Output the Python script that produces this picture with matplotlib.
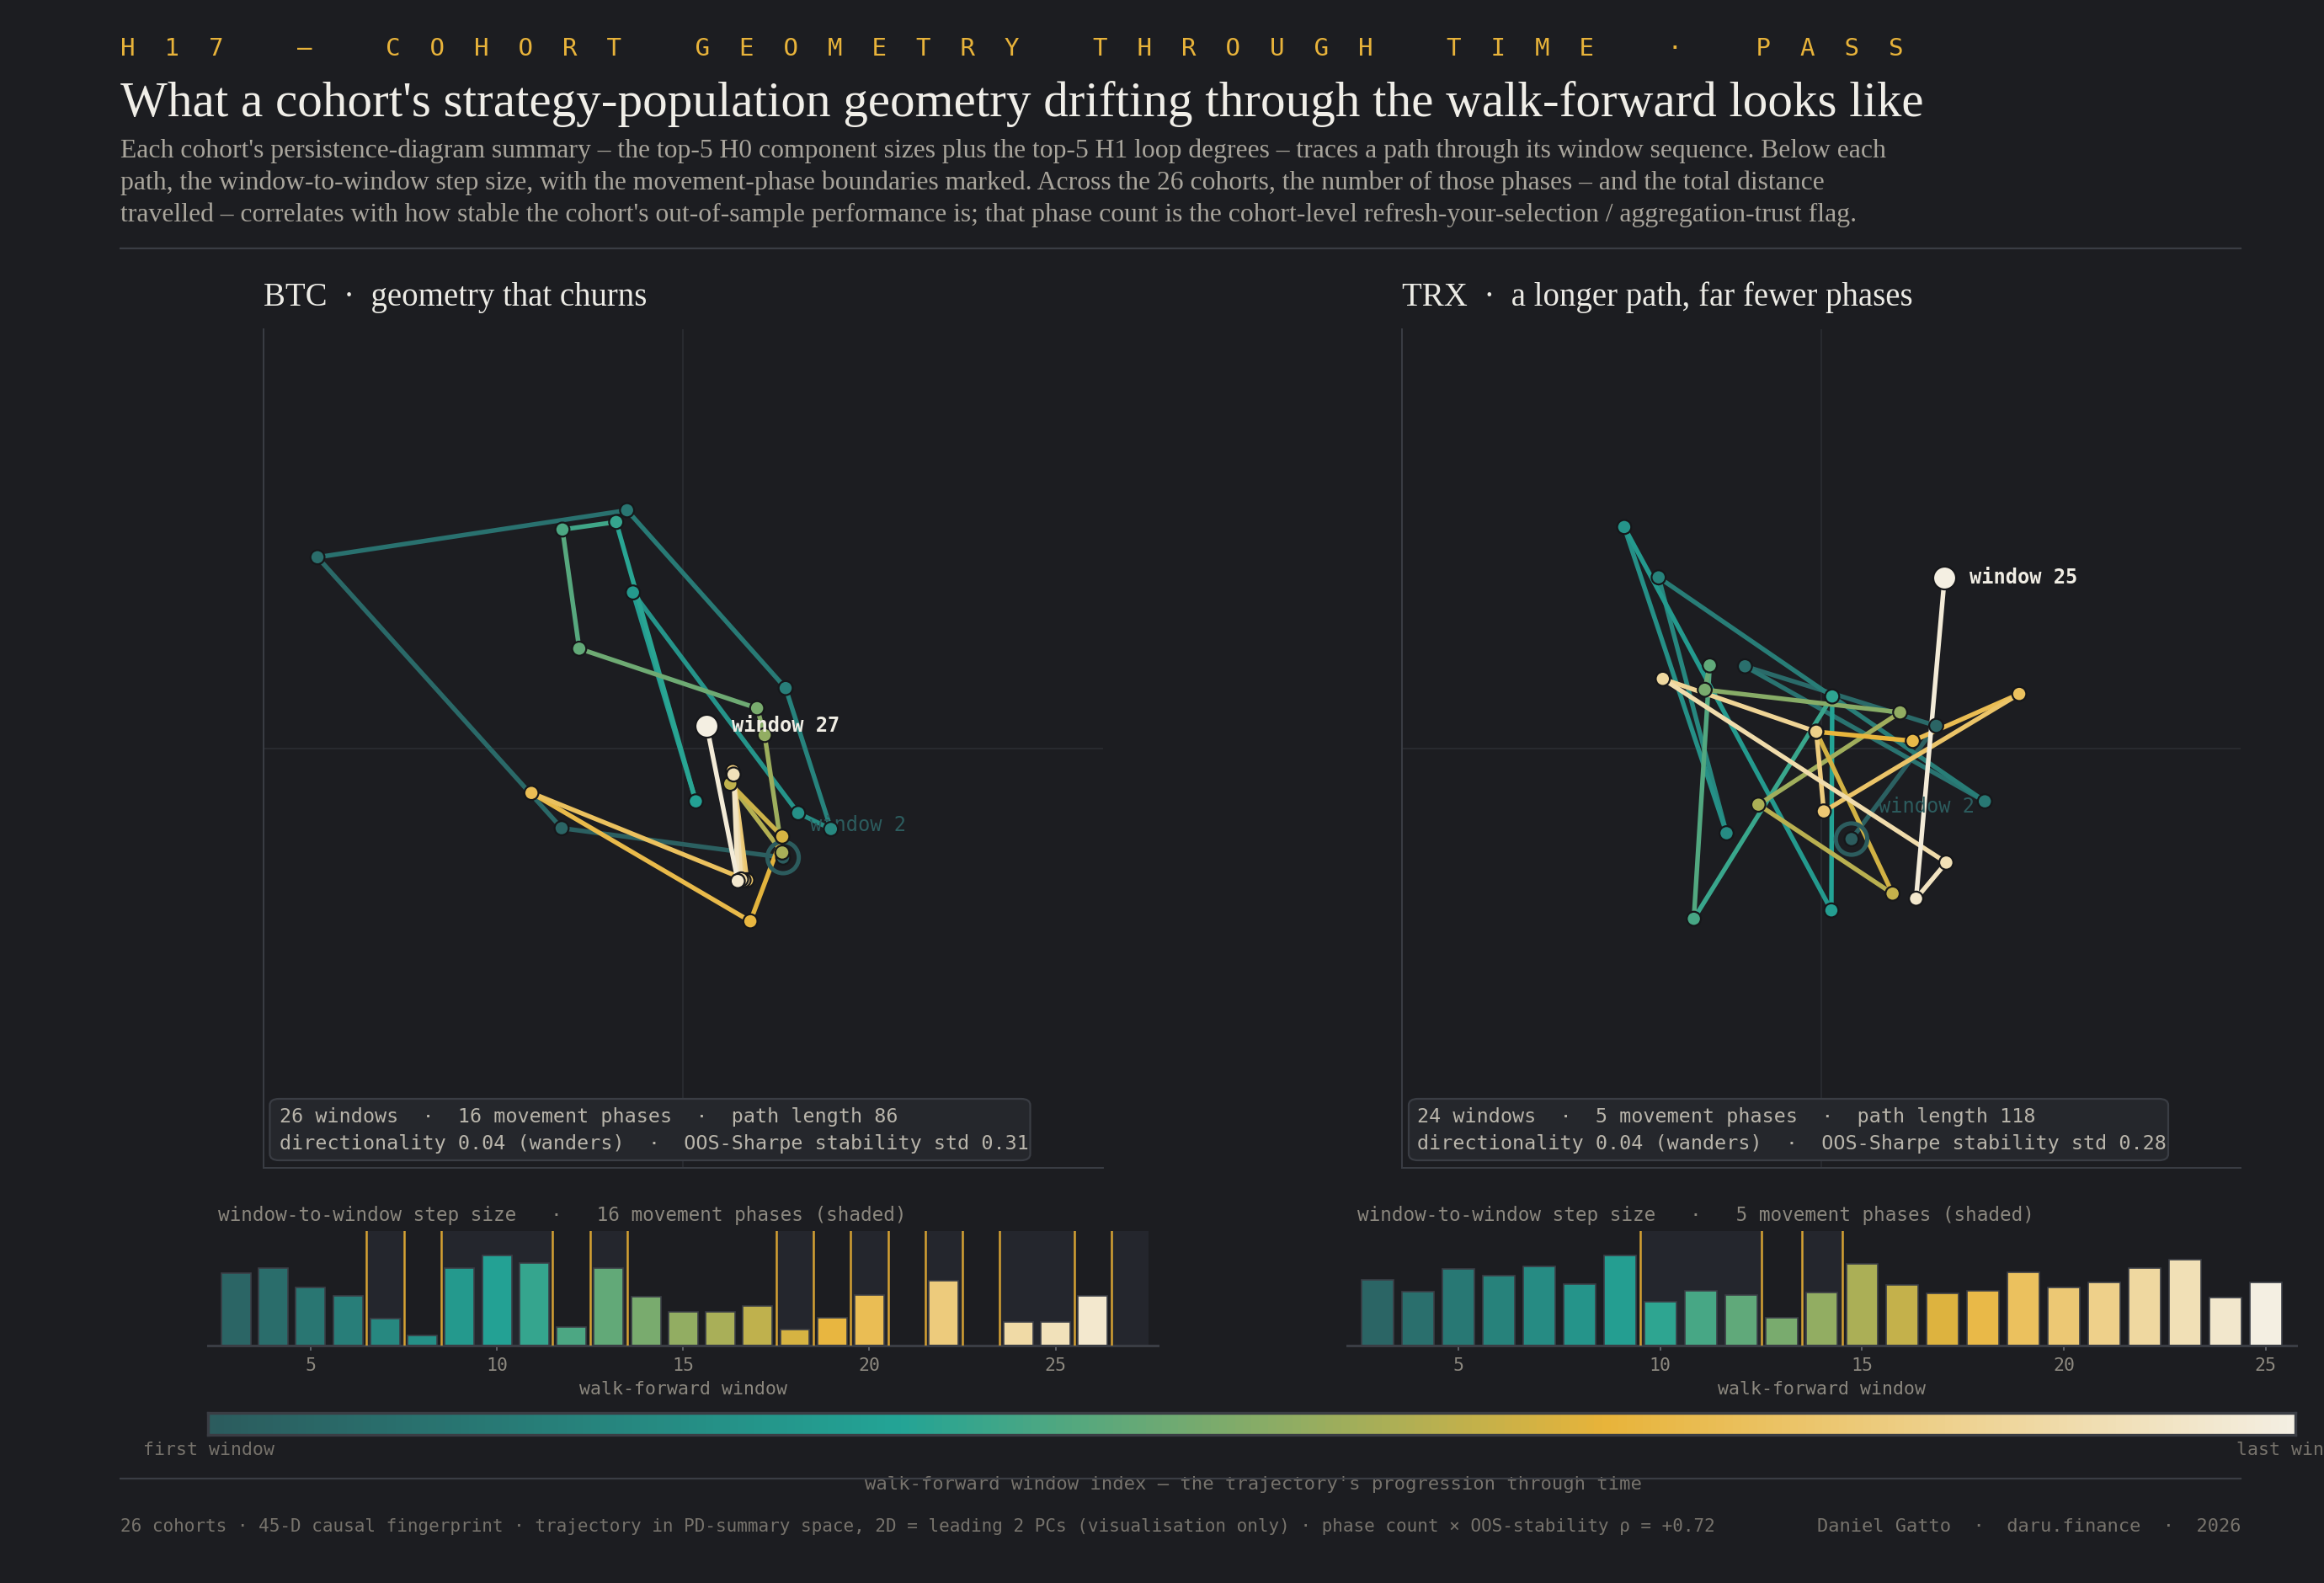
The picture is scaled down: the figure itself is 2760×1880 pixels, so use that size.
import matplotlib
matplotlib.use("Agg")
import matplotlib.pyplot as plt
import numpy as np
from matplotlib.colors import LinearSegmentedColormap
from matplotlib.patches import FancyBboxPatch

# ---- data ----
btc_windows = list(range(2, 28))
btc_pc1 = [1.19, -1.45, -4.36, -0.67, 1.22, 1.76, 1.37, -0.60, 0.15, -0.80, -1.44, -1.24, 0.88,
           0.97, 1.18, 0.56, 1.18, 0.80, -1.81, 0.76, 0.59, 0.72, 0.69, 0.60, 0.65, 0.28]
btc_pc2 = [-1.30, -0.95, 2.28, 2.84, 0.72, -0.96, -0.77, 1.86, -0.63, 2.70, 2.61, 1.19, 0.48,
           0.16, -1.24, -0.42, -1.05, -2.06, -0.53, -1.57, -0.27, -1.57, -1.56, -0.31, -1.58, 0.27]
btc_steps = [5.94, 6.36, 4.76, 4.06, 2.18, 0.79, 6.36, 7.40, 6.78, 1.49, 6.36, 3.99, 2.74,
             2.74, 3.23, 1.28, 2.25, 4.13, 0.0, 5.32, 0.0, 1.90, 1.90, 4.06, 0.0]
btc_phase_starts = [7, 8, 9, 12, 13, 14, 18, 19, 20, 21, 22, 23, 24, 26, 27]

trx_windows = list(range(2, 26))
trx_pc1 = [0.36, 1.37, -0.91, 1.95, -1.94, -1.13, -2.35, 0.12, 0.13, -1.52, -1.33, -1.39,
           0.94, -0.75, 0.85, -0.06, 1.09, 2.36, 0.03, -0.06, -1.89, 1.49, 1.13, 1.47]
trx_pc2 = [-1.08, 0.27, 0.98, -0.63, 2.04, -1.01, 2.64, -1.93, 0.62, -2.03, 0.99, 0.70,
           0.43, -0.67, -1.73, 0.20, 0.09, 0.65, -0.75, 0.20, 0.83, -1.36, -1.79, 2.04]
trx_steps = [5.37, 4.39, 6.27, 5.71, 6.48, 5.02, 7.38, 3.56, 4.46, 4.12, 2.24, 4.33, 6.68,
             4.95, 4.26, 4.46, 5.99, 4.74, 5.16, 6.34, 7.03, 3.91, 5.16]
trx_phase_starts = [10, 13, 14, 15]

btc_info = ["26 windows  ·  16 movement phases  ·  path length 86",
            "directionality 0.04 (wanders)  ·  OOS-Sharpe stability std 0.31"]
trx_info = ["24 windows  ·  5 movement phases  ·  path length 118",
            "directionality 0.04 (wanders)  ·  OOS-Sharpe stability std 0.28"]

# ---- style ----
BG = "#1c1d21"
GRID = "#2a2c31"
SPINE = "#3a3d44"
SHADE = "#24262d"
GOLD = "#e8b33a"
GOLDLINE = "#d6a233"
MUTED = "#8c887f"
FAINT = "#77736c"
DOTEDGE = "#16171a"
MONO = "DejaVu Sans Mono"
SERIF = "Liberation Serif"

cmap = LinearSegmentedColormap.from_list(
    "path", [(0.0, "#2c5c5e"), (0.33, "#23a496"), (0.67, "#e8b43a"), (1.0, "#f4efe2")])

W, H = 2760, 1880
fig = plt.figure(figsize=(W / 100, H / 100), dpi=100)
fig.patch.set_facecolor(BG)


def X(px):
    return px / W


def Y(py):
    return 1 - py / H


def spaced(words):
    return "     ".join("  ".join(w) for w in words)


fig.text(X(143), Y(66), spaced(["H17", "—", "COHORT", "GEOMETRY", "THROUGH", "TIME", "·", "PASS"]),
         color=GOLD, family=MONO, fontsize=21, va="baseline")
fig.text(X(143), Y(138), "What a cohort's strategy-population geometry drifting through the walk-forward looks like",
         color="#f0eee8", family=SERIF, fontsize=42.6, va="baseline")
sub = ["Each cohort's persistence-diagram summary – the top-5 H0 component sizes plus the top-5 H1 loop degrees – traces a path through its window sequence. Below each",
       "path, the window-to-window step size, with the movement-phase boundaries marked. Across the 26 cohorts, the number of those phases – and the total distance",
       "travelled – correlates with how stable the cohort's out-of-sample performance is; that phase count is the cohort-level refresh-your-selection / aggregation-trust flag."]
for i, line in enumerate(sub):
    fig.text(X(143), Y(186.7 + i * 38.3), line, color="#a9a59c", family=SERIF, fontsize=22.8, va="baseline")

fig.add_artist(plt.Line2D([X(143), X(2661)], [Y(295), Y(295)], color=SPINE, lw=1.6))


def draw_path(ax, pc1, pc2, windows):
    pc1 = np.array(pc1)
    pc2 = np.array(pc2)
    n = len(pc1)
    t = np.linspace(0, 1, n)
    ax.set_facecolor(BG)
    ax.set_xlim(-5, 5)
    ax.set_ylim(-5, 5)
    ax.axhline(0, color=GRID, lw=1.3, zorder=0)
    ax.axvline(0, color=GRID, lw=1.3, zorder=0)
    for s in ["top", "right"]:
        ax.spines[s].set_visible(False)
    for s in ["left", "bottom"]:
        ax.spines[s].set_color(SPINE)
        ax.spines[s].set_linewidth(1.4)
    ax.set_xticks([])
    ax.set_yticks([])
    for i in range(n - 1):
        ax.plot(pc1[i:i + 2], pc2[i:i + 2], color=cmap((i + 0.5) / (n - 1)), lw=3.9,
                solid_capstyle="round", zorder=2)
    ax.scatter(pc1[0], pc2[0], s=720, facecolors="none", edgecolors=cmap(0.0), linewidths=3.6, zorder=3)
    ax.annotate(f"window {windows[0]}", (pc1[0], pc2[0]), xytext=(23, 28), textcoords="offset points",
                color=cmap(0.0), family=MONO, fontsize=17, va="center", ha="left", zorder=3.5)
    ax.scatter(pc1[:-1], pc2[:-1], s=145, c=cmap(t[:-1]), edgecolors=DOTEDGE, linewidths=1.6, zorder=4)
    ax.scatter(pc1[-1], pc2[-1], s=380, color=cmap(1.0), edgecolors=DOTEDGE, linewidths=1.6, zorder=5)
    ax.annotate(f"window {windows[-1]}", (pc1[-1], pc2[-1]), xytext=(21.5, 0), textcoords="offset points",
                color="#f0ede4", family=MONO, fontsize=17, fontweight="bold", va="center", ha="left", zorder=6)


def draw_box(x0, x1, info, tx):
    # box and text positions in figure pixels
    box = FancyBboxPatch((X(x0), Y(1378)), X(x1) - X(x0), Y(1305) - Y(1378),
                         boxstyle="round,pad=0,rounding_size=0.004", transform=fig.transFigure,
                         facecolor="#25272c", edgecolor=SPINE, lw=1.6, zorder=7)
    fig.add_artist(box)
    for i, line in enumerate(info):
        fig.text(X(tx), Y(1326.5 + i * 31.8), line, color="#b9b5ab", family=MONO, fontsize=16.8,
                 va="center", ha="left", zorder=8)


def draw_steps(ax, windows, steps, phase_starts, label):
    w = np.array(windows[1:])
    vals = np.array(steps)
    first, last = windows[0], windows[-1]
    ax.set_facecolor(BG)
    ax.set_xlim(w[0] - 0.75, w[-1] + 0.75)
    ax.set_ylim(0, vals.max() * 1.27)
    bounds = [w[0] - 0.75] + [p - 0.5 for p in phase_starts] + [w[-1] + 0.5]
    for k in range(len(bounds) - 1):
        if k % 2 == 1:
            ax.axvspan(bounds[k], bounds[k + 1], color=SHADE, lw=0, zorder=0)
    for p in phase_starts:
        ax.axvline(p - 0.5, color=GOLDLINE, lw=1.8, zorder=3)
    ax.bar(w, vals, width=0.79, color=cmap((w - first) / (last - first)), edgecolor="#3b3e46",
           linewidth=1.2, zorder=2)
    for s in ["top", "right", "left"]:
        ax.spines[s].set_visible(False)
    ax.spines["bottom"].set_color(SPINE)
    ax.spines["bottom"].set_linewidth(2.2)
    ax.set_yticks([])
    ax.set_xticks([5, 10, 15, 20, 25])
    ax.tick_params(axis="x", colors="#6b6e75", length=4, width=1.2, pad=6, labelcolor=MUTED,
                   labelsize=15.5)
    for lab in ax.get_xticklabels():
        lab.set_family(MONO)
    ax.set_xlabel("walk-forward window", color=MUTED, family=MONO, fontsize=15.5, labelpad=6)
    ax.text(0.01, 1.14, label, transform=ax.transAxes, color=MUTED, family=MONO, fontsize=16.3,
            va="center", ha="left")


# ---- BTC panel ----
fig.text(X(313), Y(363), "BTC  ·  geometry that churns", color="#ecebe5", family=SERIF, fontsize=28,
         va="baseline")
ax1 = fig.add_axes([X(313.3), Y(1387), X(1309.6) - X(313.3), Y(390.8) - Y(1387)])
draw_path(ax1, btc_pc1, btc_pc2, btc_windows)
draw_box(320.4, 1223.5, btc_info, 331.9)

axb1 = fig.add_axes([X(247.3), Y(1597.7), X(1375.3) - X(247.3), Y(1462.3) - Y(1597.7)])
draw_steps(axb1, btc_windows, btc_steps, btc_phase_starts,
           "window-to-window step size   ·   16 movement phases (shaded)")

# ---- TRX panel ----
fig.text(X(1665), Y(363), "TRX  ·  a longer path, far fewer phases", color="#ecebe5", family=SERIF,
         fontsize=28, va="baseline")
ax2 = fig.add_axes([X(1665), Y(1387), X(2661) - X(1665), Y(390.8) - Y(1387)])
draw_path(ax2, trx_pc1, trx_pc2, trx_windows)
draw_box(1673, 2575, trx_info, 1683.4)

axb2 = fig.add_axes([X(1600.3), Y(1597.7), X(2726.8) - X(1600.3), Y(1462.3) - Y(1597.7)])
draw_steps(axb2, trx_windows, trx_steps, trx_phase_starts,
           "window-to-window step size   ·   5 movement phases (shaded)")

# ---- colour bar ----
cax = fig.add_axes([X(247.4), Y(1703.7), X(2726) - X(247.4), Y(1678) - Y(1703.7)])
cax.imshow(np.linspace(0, 1, 512)[None, :], aspect="auto", cmap=cmap, extent=[0, 1, 0, 1])
cax.set_xticks([])
cax.set_yticks([])
for s in cax.spines.values():
    s.set_color(SPINE)
    s.set_linewidth(2.4)
fig.text(X(170), Y(1721.7), "first window", color=FAINT, family=MONO, fontsize=15.5, va="center")
fig.text(X(2655.6), Y(1721.7), "last window", color=FAINT, family=MONO, fontsize=15.5, va="center")
fig.text(X(1488), Y(1763), "walk-forward window index — the trajectory's progression through time",
         color=FAINT, family=MONO, fontsize=16, va="center", ha="center")
fig.add_artist(plt.Line2D([X(143), X(2661)], [Y(1756), Y(1756)], color=SPINE, lw=1.6, zorder=10))

fig.text(X(143), Y(1813), "26 cohorts · 45-D causal fingerprint · trajectory in PD-summary space, 2D = leading 2 PCs (visualisation only) · phase count × OOS-stability ρ = +0.72",
         color=FAINT, family=MONO, fontsize=15.1, va="center", ha="left")
fig.text(X(2662), Y(1813), "Daniel Gatto  ·  daru.finance  ·  2026", color=FAINT, family=MONO,
         fontsize=15.8, va="center", ha="right")

fig.savefig("out.png", dpi=100, facecolor=BG)
